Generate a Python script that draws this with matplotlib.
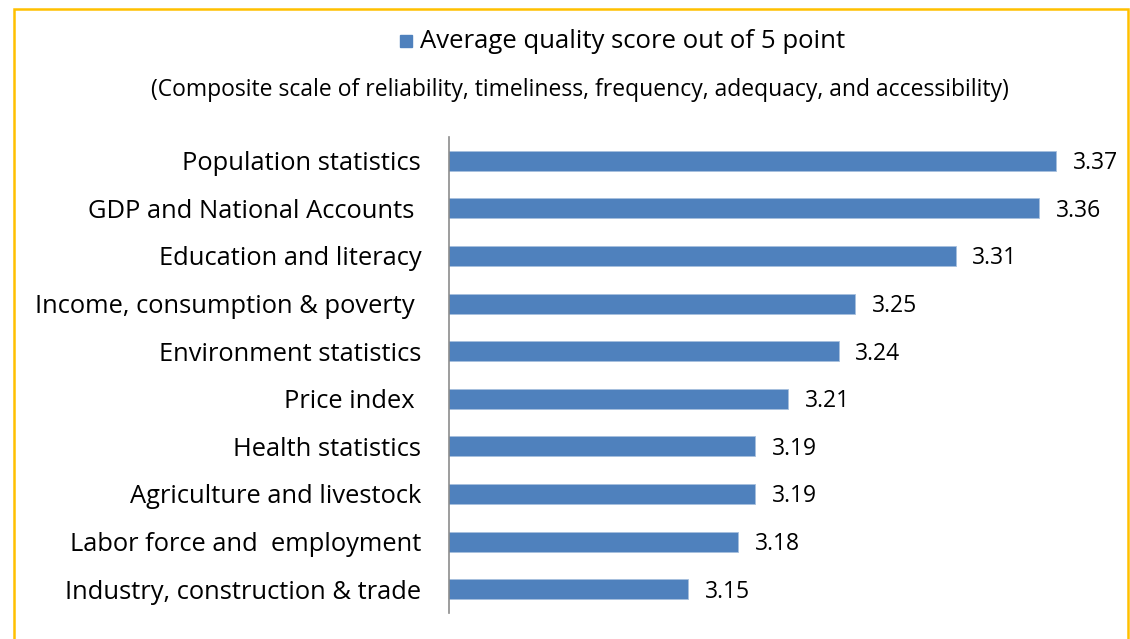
import matplotlib.pyplot as plt
from matplotlib.patches import Rectangle

plt.rcParams['font.family'] = ['Open Sans', 'DejaVu Sans']

categories = [
    "Population statistics",
    "GDP and National Accounts ",
    "Education and literacy",
    "Income, consumption & poverty ",
    "Environment statistics",
    "Price index ",
    "Health statistics",
    "Agriculture and livestock",
    "Labor force and  employment",
    "Industry, construction & trade",
]
scores = [3.37, 3.36, 3.31, 3.25, 3.24, 3.21, 3.19, 3.19, 3.18, 3.15]

W, H = 1130, 639
fig = plt.figure(figsize=(W / 100, H / 100), dpi=100)
ax = fig.add_axes([449 / W, 1 - 613 / H, 657 / W, 476 / H])

bar_color = "#4F81BD"
y = list(range(len(categories)))
ax.barh(y, scores, height=0.42, color=bar_color, edgecolor="#A7C0DE", linewidth=0.6)

for yi, v in zip(y, scores):
    ax.text(v + 0.010, yi + 0.05, f"{v:.2f}", va="center", ha="left",
            fontsize=16.5, color="black")

ax.set_xlim(3.007, 3.4)
ax.set_ylim(9.5, -0.5)
ax.set_yticks(y)
ax.set_yticklabels(categories, fontsize=18.4)
ax.tick_params(axis="y", length=0, pad=20)
ax.set_xticks([])
for s in ["top", "right", "bottom"]:
    ax.spines[s].set_visible(False)
ax.spines["left"].set_color("#8C8C8C")
ax.spines["left"].set_linewidth(1.2)

# legend entry
fig.patches.append(Rectangle((400 / W, 1 - 47 / H), 12 / W, 12 / H,
                             transform=fig.transFigure, color=bar_color))
fig.text(420 / W, 1 - 41 / H, "Average quality score out of 5 point",
         fontsize=18.5, va="center", ha="left")
fig.text(580 / W, 1 - 90 / H,
         "(Composite scale of reliability, timeliness, frequency, adequacy, and accessibility)",
         fontsize=16.5, va="center", ha="center")

# outer border
fig.patches.append(Rectangle((14 / W, -0.05), (1128 - 14) / W, 1 - 9 / H + 0.05,
                             transform=fig.transFigure, fill=False,
                             edgecolor="#FFC000", linewidth=1.8))

fig.savefig("out.png", dpi=100)
